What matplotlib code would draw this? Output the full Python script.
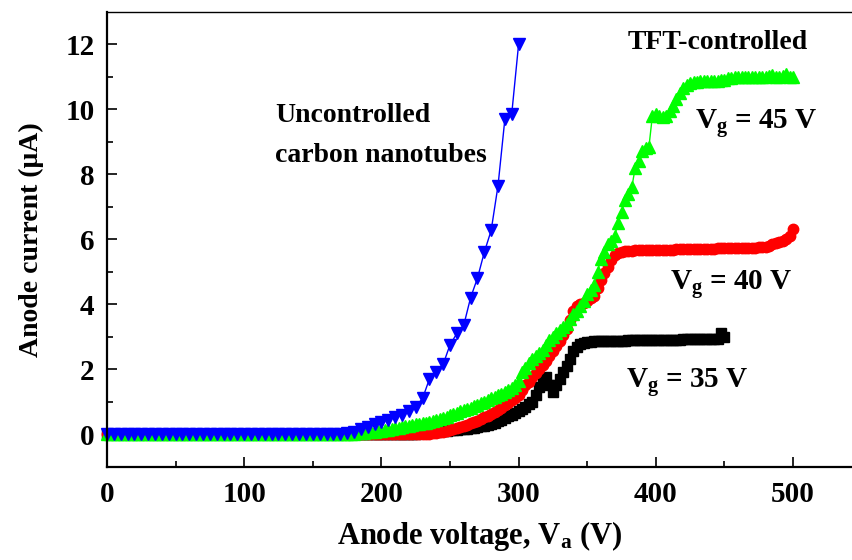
import matplotlib
matplotlib.use("Agg")
import matplotlib.pyplot as plt
import numpy as np

plt.rcParams['font.family'] = ['Liberation Serif', 'DejaVu Serif']
plt.rcParams['font.weight'] = 'bold'
plt.rcParams['mathtext.fontset'] = 'custom'
plt.rcParams['mathtext.rm'] = 'Liberation Serif:bold'
plt.rcParams['mathtext.bf'] = 'Liberation Serif:bold'
plt.rcParams['mathtext.it'] = 'Liberation Serif:bold'

# Anode voltage grids (V)
v_blue = np.arange(0, 305, 5)
v_green = np.arange(0, 502.5, 2.5)
v_red = np.arange(0, 502.5, 2.5)
v_black = np.arange(0, 452.5, 2.5)

# Uncontrolled carbon nanotubes (uA), 5 V steps
i_blue = [0.0] * 35 + [
    0.03, 0.08, 0.15, 0.22, 0.30, 0.38, 0.45, 0.52, 0.60, 0.72,
    0.85, 1.10, 1.70, 1.90, 2.15, 2.75, 3.10, 3.35, 4.20, 4.80,
    5.60, 6.27, 7.65, 9.70, 9.86, 12.0]

# TFT-controlled, Vg = 45 V, 2.5 V steps (flat at 0 up to 177.5 V)
i_green = [0.0] * 72 + [
    0.02, 0.03, 0.04, 0.05, 0.06, 0.07, 0.08, 0.095, 0.11, 0.125,
    0.14, 0.16, 0.18, 0.20, 0.22, 0.24, 0.26, 0.28, 0.30, 0.32,
    0.34, 0.36, 0.38, 0.40, 0.43, 0.46, 0.50, 0.54, 0.58, 0.62,
    0.66, 0.70, 0.74, 0.78, 0.82, 0.86, 0.90, 0.95, 1.00, 1.05,
    1.10, 1.15, 1.20, 1.25, 1.30, 1.36, 1.42, 1.50, 1.65, 1.90,
    2.05, 2.20, 2.30, 2.40, 2.50, 2.60, 2.75, 2.90, 3.00, 3.10,
    3.20, 3.30, 3.40, 3.55, 3.70, 3.80, 3.95, 4.10, 4.30, 4.45,
    4.60, 5.00, 5.40, 5.60, 5.85, 5.95, 6.10, 6.50, 6.85, 7.20,
    7.40, 7.60, 8.20, 8.40, 8.70, 8.80, 8.85, 9.80, 9.85, 9.80,
    9.75, 9.80, 9.95, 10.10, 10.30, 10.50, 10.65, 10.75, 10.82, 10.84,
    10.85, 10.86, 10.88, 10.88, 10.88, 10.88, 10.88, 10.89, 10.90, 10.95,
    10.97, 10.98, 10.98, 10.98, 10.98, 10.98, 10.98, 10.98, 10.98, 10.98,
    10.98, 11.02, 11.05, 11.00, 10.98, 11.03, 11.08, 11.00, 10.98]

# Vg = 40 V (flat at 0 up to 232.5 V)
i_red = [0.0] * 94 + [
    0.02, 0.035, 0.05, 0.065, 0.08, 0.10, 0.12, 0.15, 0.18, 0.21,
    0.25, 0.29, 0.33, 0.37, 0.42, 0.47, 0.52, 0.57, 0.62, 0.68,
    0.75, 0.82, 0.90, 0.97, 1.05, 1.12, 1.20, 1.35, 1.50, 1.62,
    1.75, 1.88, 2.00, 2.12, 2.25, 2.40, 2.55, 2.72, 2.88, 3.05,
    3.25, 3.50, 3.80, 3.95, 4.00, 4.05, 4.10, 4.18, 4.25, 4.50,
    4.75, 4.95, 5.15, 5.35, 5.50, 5.58, 5.62, 5.64, 5.65, 5.65,
    5.66, 5.66, 5.66, 5.66, 5.67, 5.67, 5.67, 5.67, 5.68, 5.68,
    5.68, 5.68, 5.69, 5.69, 5.69, 5.69, 5.70, 5.70, 5.70, 5.70,
    5.71, 5.71, 5.71, 5.71, 5.72, 5.72, 5.72, 5.72, 5.73, 5.73,
    5.73, 5.73, 5.74, 5.74, 5.74, 5.74, 5.75, 5.75, 5.76, 5.80,
    5.85, 5.88, 5.92, 5.96, 6.00, 6.10, 6.30]

# Vg = 35 V (flat at 0 up to 222.5 V)
i_black = [0.0] * 90 + [
    0.02, 0.03, 0.04, 0.05, 0.06, 0.07, 0.08, 0.09, 0.10, 0.11,
    0.12, 0.13, 0.14, 0.15, 0.16, 0.175, 0.19, 0.205, 0.22, 0.24,
    0.26, 0.29, 0.32, 0.36, 0.40, 0.45, 0.50, 0.55, 0.60, 0.66,
    0.72, 0.78, 0.85, 0.92, 1.00, 1.20, 1.45, 1.60, 1.75, 1.50,
    1.30, 1.50, 1.70, 1.90, 2.10, 2.30, 2.55, 2.68, 2.78, 2.81,
    2.83, 2.85, 2.86, 2.86, 2.87, 2.87, 2.87, 2.88, 2.88, 2.88,
    2.88, 2.88, 2.89, 2.89, 2.89, 2.89, 2.90, 2.90, 2.90, 2.90,
    2.90, 2.90, 2.91, 2.91, 2.91, 2.91, 2.91, 2.91, 2.92, 2.92,
    2.92, 2.92, 2.92, 2.92, 2.93, 2.93, 2.93, 2.93, 2.94, 3.10,
    2.98]

fig = plt.figure(figsize=(8.53, 5.6), dpi=100)
ax = fig.add_axes([0.1254, 0.1666, 0.8746, 0.8125])

ax.plot(v_black, i_black, color='black', marker='s', ms=6.5, lw=1, clip_on=False)
ax.plot(v_red, i_red, color='#ff0000', marker='o', ms=7.5, lw=1, clip_on=False)
ax.plot(v_green, i_green, color='#00ff00', marker='^', ms=8.5, lw=1, clip_on=False)
ax.plot(v_blue, i_blue, color='#0000ff', marker='v', ms=8.5, lw=1, clip_on=False)

ax.set_xlim(0, 543.7)
ax.set_ylim(-1, 13)
ax.set_xticks([0, 100, 200, 300, 400, 500])
ax.set_xticks([50, 150, 250, 350, 450], minor=True)
ax.set_yticks([0, 2, 4, 6, 8, 10, 12])
ax.set_yticks([1, 3, 5, 7, 9, 11], minor=True)
ax.tick_params(which='both', direction='in', labelsize=21, width=1.2)
ax.tick_params(which='major', length=7.5)
ax.tick_params(which='minor', length=4)
ax.tick_params(axis='y', pad=9)
ax.tick_params(axis='x', pad=10)

ax.spines['right'].set_visible(False)
ax.spines['left'].set_linewidth(1.6)
ax.spines['bottom'].set_linewidth(1.6)
ax.spines['top'].set_linewidth(1.0)

ax.set_xlabel(r'Anode voltage, V$_{\rm a}$ (V)', fontsize=22, fontweight='bold', labelpad=8)
ax.set_ylabel('Anode current (\u03bcA)', fontsize=20, fontweight='bold', labelpad=15)

ax.text(122.4, 9.8, 'Uncontrolled', fontsize=20, fontweight='bold', va='center', ha='left')
ax.text(122.4, 8.57, 'carbon nanotubes', fontsize=20, fontweight='bold', va='center', ha='left')
ax.text(379.7, 12.05, 'TFT-controlled', fontsize=20, fontweight='bold', va='center', ha='left')
ax.text(428.6, 9.55, r'V$_{\rm g}$ = 45 V', fontsize=21, fontweight='bold', va='center', ha='left')
ax.text(410, 4.6, r'V$_{\rm g}$ = 40 V', fontsize=21, fontweight='bold', va='center', ha='left')
ax.text(378.6, 1.6, r'V$_{\rm g}$ = 35 V', fontsize=21, fontweight='bold', va='center', ha='left')

fig.savefig('out.png', dpi=100)
